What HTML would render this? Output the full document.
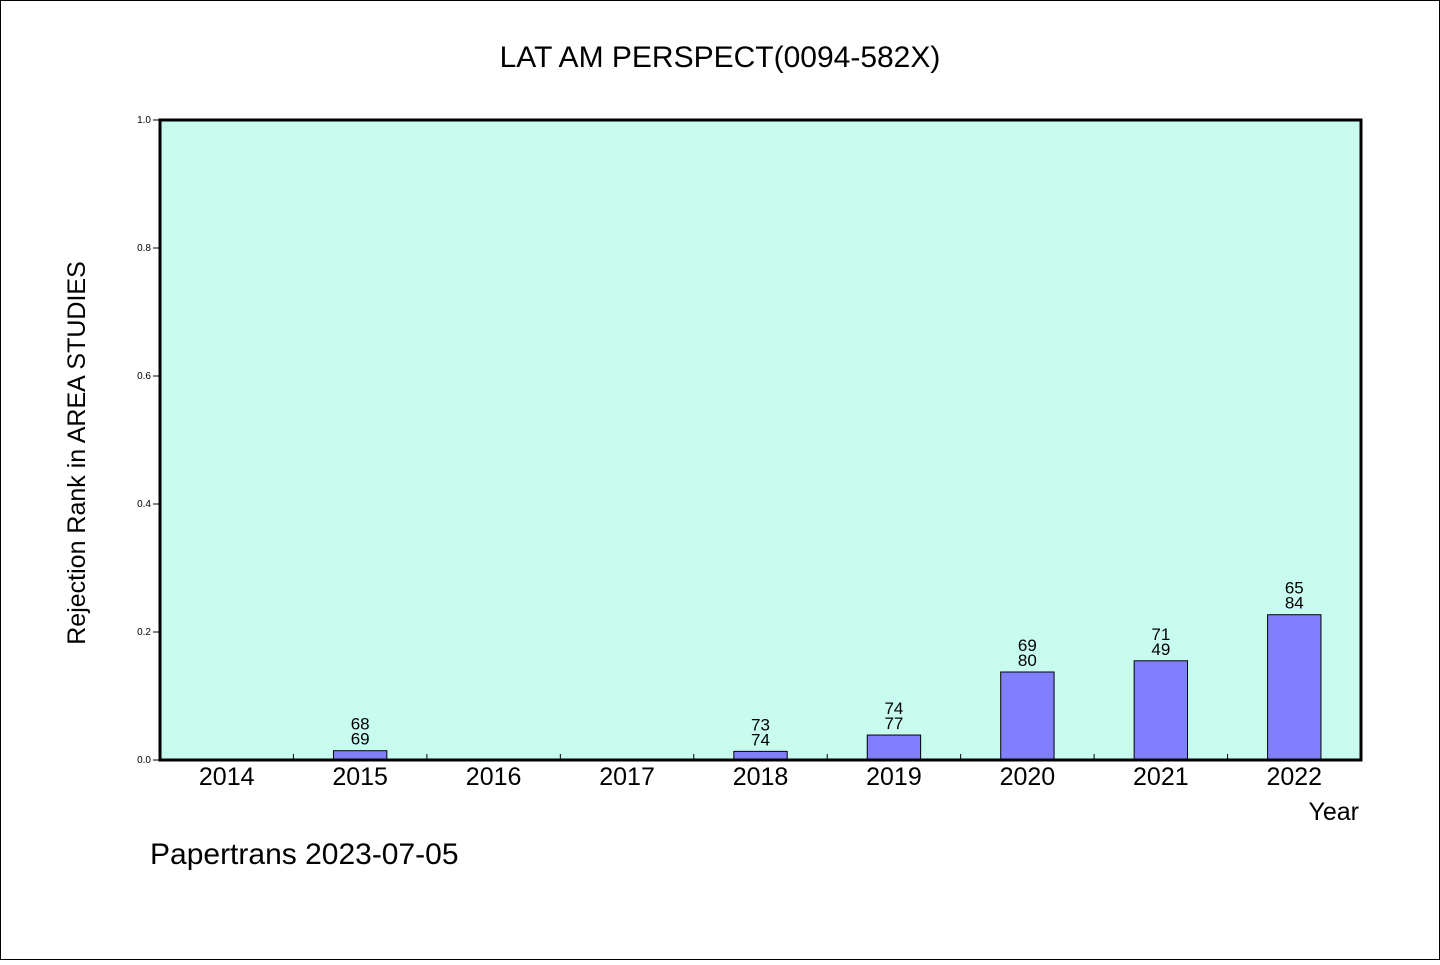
<!DOCTYPE html>
<html><head><meta charset="utf-8"><style>
html,body{margin:0;padding:0;background:#fff}
svg text{font-family:"WenQuanYi Zen Hei","Liberation Sans",sans-serif}
</style></head><body>
<svg id="chart" width="1440" height="960" xmlns="http://www.w3.org/2000/svg">
<rect x="0.5" y="0.5" width="1439" height="959" fill="#fff" stroke="#000"/>
<text x="720" y="67" font-size="30" text-anchor="middle">LAT AM PERSPECT(0094-582X)</text>
<rect x="160" y="120" width="1201" height="640" fill="#c8fcee"/>
<g id="marks"></g>
<rect x="160" y="120" width="1201" height="640" fill="none" stroke="#000" stroke-width="3"/>
<text transform="translate(85,453) rotate(-90)" font-size="25" text-anchor="middle">Rejection Rank in AREA STUDIES</text>
<text x="1359" y="820" font-size="25" text-anchor="end">Year</text>
<text x="150" y="864" font-size="30">Papertrans 2023-07-05</text>
</svg>
<script>
const categories=["2014","2015","2016","2017","2018","2019","2020","2021","2022"];
const values=[null,0.0145,null,null,0.0135,0.039,0.1375,0.155,0.227];
const labelTop=[null,"68",null,null,"73","74","69","71","65"];
const labelBottom=[null,"69",null,null,"74","77","80","49","84"];
const yTicks=[0,0.2,0.4,0.6,0.8,1.0];
const X0=160,X1=1361,Y0=760,Y1=120;
const step=(X1-X0)/categories.length;
const xc=i=>X0+step*(i+0.5);
const y=v=>Y0-(v/1.0)*(Y0-Y1);
const NS="http://www.w3.org/2000/svg";
const g=document.getElementById('marks');
function mk(t,a){const e=document.createElementNS(NS,t);for(const k in a)e.setAttribute(k,a[k]);g.appendChild(e);return e;}
yTicks.forEach(v=>{
  const l=mk('line',{x1:153,x2:160,y1:y(v),y2:y(v),stroke:'#000'});
  
  
  const t=mk('text',{x:151,y:y(v)+3,'font-size':10,'text-anchor':'end'});
  t.textContent=v.toFixed(1);
  
  
});
categories.forEach((c,i)=>{
  if(i>0){
    const l=mk('line',{x1:X0+step*i,x2:X0+step*i,y1:754,y2:760,stroke:'#000'});
    
    
  }
  const t=mk('text',{x:xc(i),y:785,'font-size':25,'text-anchor':'middle'});
  t.textContent=c;
  
  
  const v=values[i];
  if(v!=null){
    const bw=step*0.4;
    const r=mk('rect',{x:xc(i)-bw/2,y:y(v),width:bw,height:Y0-y(v),fill:'#8080ff',stroke:'#000','stroke-width':1});
    
    
    const a=mk('text',{x:xc(i),y:y(v)-21,'font-size':17,'text-anchor':'middle'});
    a.textContent=labelTop[i];
    
    
    const b=mk('text',{x:xc(i),y:y(v)-6,'font-size':17,'text-anchor':'middle'});
    b.textContent=labelBottom[i];
    
    
  }
});
</script>
</body></html>
